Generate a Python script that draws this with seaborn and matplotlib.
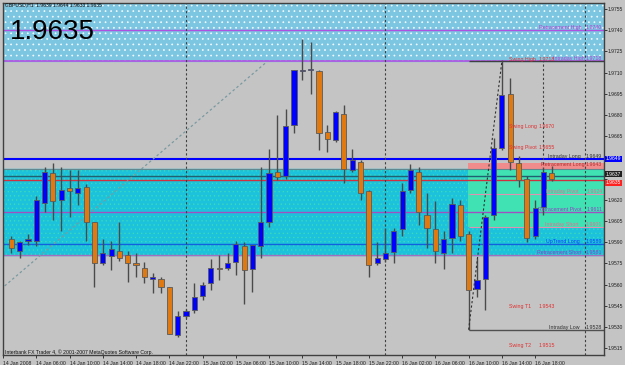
import matplotlib
matplotlib.use("Agg")
import matplotlib.pyplot as plt
import matplotlib.transforms as mtransforms
import seaborn as sns
import numpy as np

# ---------------- data ----------------
opens = [1.9592, 1.9584, 1.9591, 1.9591, 1.9618, 1.9639, 1.9620, 1.9628, 1.9625, 1.9629,
         1.9604, 1.9575, 1.9580, 1.9584, 1.9581, 1.9575, 1.9572, 1.9564, 1.9564, 1.9558,
         1.9524, 1.9538, 1.9542, 1.9552, 1.9561, 1.9572, 1.9572, 1.9576, 1.9587, 1.9571,
         1.9587, 1.9604, 1.9640, 1.9637, 1.9673, 1.9711, 1.9712, 1.9711, 1.9668, 1.9662,
         1.9681, 1.9641, 1.9647, 1.9626, 1.9575, 1.9578, 1.9583, 1.9599, 1.9627, 1.9640,
         1.9609, 1.9599, 1.9582, 1.9593, 1.9616, 1.9596, 1.9557, 1.9564, 1.9609, 1.9657,
         1.9695, 1.9646, 1.9635, 1.9594, 1.9615, 1.9639]
highs = [1.9594, 1.9591, 1.9596, 1.9623, 1.9643, 1.9646, 1.9643, 1.9641, 1.9641, 1.9631,
         1.9604, 1.9592, 1.9591, 1.9604, 1.9584, 1.9582, 1.9576, 1.9568, 1.9565, 1.9558,
         1.9541, 1.9543, 1.9561, 1.9562, 1.9578, 1.9581, 1.9582, 1.9591, 1.9590, 1.9588,
         1.9643, 1.9656, 1.9680, 1.9684, 1.9712, 1.9734, 1.9732, 1.9712, 1.9673, 1.9683,
         1.9687, 1.9656, 1.9648, 1.9627, 1.9590, 1.9600, 1.9600, 1.9632, 1.9645, 1.9643,
         1.9625, 1.9619, 1.9598, 1.9621, 1.9620, 1.9598, 1.9579, 1.9609, 1.9664, 1.9719,
         1.9706, 1.9651, 1.9637, 1.9620, 1.9643, 1.9644]
lows = [1.9582, 1.9579, 1.9588, 1.9587, 1.9611, 1.9606, 1.9598, 1.9608, 1.9616, 1.9591,
        1.9558, 1.9574, 1.9570, 1.9577, 1.9562, 1.9565, 1.9561, 1.9554, 1.9554, 1.9525,
        1.9523, 1.9536, 1.9540, 1.9549, 1.9556, 1.9563, 1.9570, 1.9567, 1.9546, 1.9555,
        1.9579, 1.9601, 1.9634, 1.9635, 1.9667, 1.9705, 1.9695, 1.9655, 1.9654, 1.9661,
        1.9632, 1.9640, 1.9620, 1.9565, 1.9574, 1.9576, 1.9575, 1.9594, 1.9625, 1.9602,
        1.9586, 1.9575, 1.9571, 1.9582, 1.9591, 1.9528, 1.9551, 1.9542, 1.9606, 1.9655,
        1.9641, 1.9629, 1.9590, 1.9592, 1.9609, 1.9633]
closes = [1.9586, 1.9590, 1.9592, 1.9620, 1.9640, 1.9619, 1.9627, 1.9626, 1.9628, 1.9604,
          1.9575, 1.9582, 1.9585, 1.9579, 1.9575, 1.9574, 1.9565, 1.9565, 1.9558, 1.9525,
          1.9538, 1.9541, 1.9551, 1.9560, 1.9572, 1.9571, 1.9575, 1.9589, 1.9570, 1.9588,
          1.9604, 1.9639, 1.9636, 1.9672, 1.9712, 1.9712, 1.9712, 1.9667, 1.9663, 1.9682,
          1.9642, 1.9648, 1.9625, 1.9574, 1.9579, 1.9582, 1.9598, 1.9626, 1.9641, 1.9611,
          1.9600, 1.9584, 1.9592, 1.9617, 1.9594, 1.9556, 1.9563, 1.9608, 1.9657, 1.9694,
          1.9647, 1.9634, 1.9593, 1.9614, 1.9640, 1.9635]

time_labels = ["14 Jan 2008", "14 Jan 06:00", "14 Jan 10:00", "14 Jan 14:00", "14 Jan 18:00",
               "14 Jan 22:00", "15 Jan 02:00", "15 Jan 06:00", "15 Jan 10:00", "15 Jan 14:00",
               "15 Jan 18:00", "15 Jan 22:00", "16 Jan 02:00", "16 Jan 06:00", "16 Jan 10:00",
               "16 Jan 14:00", "16 Jan 18:00"]
time_label_bars = [-1, 3, 7, 11, 15, 19, 23, 27, 31, 35, 39, 43, 47, 51, 55, 59, 63]
day_separator_bars = [21, 45, 69]

price_ticks = [1.9755, 1.9740, 1.9725, 1.9710, 1.9695, 1.9680, 1.9665, 1.9650, 1.9635,
               1.9620, 1.9605, 1.9590, 1.9575, 1.9560, 1.9545, 1.9530, 1.9515]
hidden_tick_labels = [1.9650, 1.9635]

level_names = ["Retracement High", "Intraday High", "Intraday Long", "Retracement Long",
               "Intraday Pivot", "Retracement Pivot", "Intraday Short", "UpTrend Long",
               "Retracement Short", "Intraday Low"]
level_values = [1.9740, 1.9718, 1.9649, 1.9643, 1.9624, 1.9611, 1.9601, 1.9589, 1.9581, 1.9528]
level_colors = ["#B040D0", "#B040D0", "#303030", "#B03030", "#E07090", "#9040C0",
                "#E07090", "#1040FF", "#9040C0", "#303030"]

swing_names = ["Swing High", "Swing Long", "Swing Pivot", "Swing T1", "Swing T2"]
swing_values = [1.9718, 1.9670, 1.9655, 1.9543, 1.9515]

bid_price = 1.9635
ask_price = 1.9637
retr_high_band = (1.9718, 1.9760)
main_band = (1.9581, 1.9642)
long_zone = (1.9601, 1.9642)
retr_long_zone = (1.9642, 1.9646)
zone_start_bar = 55
trend_x = [-0.8, 30.6]
trend_y = [1.9559, 1.9717]
swing_leg_x = [55, 59]
swing_leg_y = [1.9528, 1.9718]

# ---------------- style ----------------
BG = "#C4C4C4"
SMALL = "Liberation Sans"
FS = 3.8
sns.set_theme(style="white")
plt.rcParams["font.family"] = ["DejaVu Sans"]

fig = plt.figure(figsize=(6.25, 3.65), dpi=100, facecolor=BG)
ax = fig.add_axes([3 / 625, 10 / 365, 601 / 625, 352 / 365])
ax.set_facecolor(BG)

n = len(opens)
x = np.arange(n)
ax.set_xlim(-0.84, 71.28)
ax.set_ylim(1.95101, 1.97593)

# bands
ax.axhspan(*retr_high_band, color="#7CC6E2", zorder=0)
with plt.rc_context({"hatch.linewidth": 0.5}):
    ax.axhspan(*retr_high_band, facecolor="none", edgecolor="#F4FAFF", hatch="...", lw=0, zorder=0.1)
ax.axhspan(*main_band, color="#1CC2DC", zorder=0)
with plt.rc_context({"hatch.linewidth": 0.4}):
    ax.axhspan(*main_band, facecolor="none", edgecolor="#3EDCB4", hatch="....", lw=0, zorder=0.1)
ax.fill_between([zone_start_bar - 0.05, 72], long_zone[0], long_zone[1], color="#40E2B4", lw=0, zorder=0.2)
ax.fill_between([zone_start_bar - 0.05, 72], retr_long_zone[0], retr_long_zone[1], color="#F08C8C", lw=0, zorder=0.2)

# full-width level lines
ax.axhline(level_values[0], color="#B050E0", lw=1.0, zorder=1)
ax.axhline(level_values[1], color="#B050E0", lw=1.2, zorder=1)
ax.axhline(level_values[2], color="#0000FF", lw=1.5, zorder=1)
ax.axhline(level_values[5], color="#A050C0", lw=1.0, zorder=1)
ax.axhline(level_values[7], color="#1060E0", lw=1.0, zorder=1)
ax.axhline(level_values[8], color="#A070C0", lw=1.0, zorder=1)
ax.axhline(main_band[1], color="#608890", lw=0.8, zorder=1)
ax.axhline(ask_price - 0.00005, color="#206070", lw=1.0, zorder=1)
ax.axhline(bid_price - 0.0001, color="#D03040", lw=1.0, zorder=1)
# partial level lines (right zone)
ax.hlines(level_values[4], zone_start_bar, 72, color="#E090B0", lw=0.8, zorder=1)
ax.hlines(level_values[6], zone_start_bar, 72, color="#E090B0", lw=0.8, zorder=1)
ax.hlines(level_values[9], zone_start_bar, 72, color="#505050", lw=1.0, zorder=1)
ax.hlines(level_values[1], zone_start_bar, 72, color="#404040", lw=1.0, zorder=1.1)

# separators and trend lines
for b in day_separator_bars:
    ax.axvline(b, color="#404040", lw=0.8, ls=(0, (2, 2)), zorder=1)
ax.vlines(64, 1.9645, level_values[1], color="#404040", lw=0.8, ls=(0, (2, 2)), zorder=1)
sns.lineplot(x=trend_x, y=trend_y, ax=ax, color="#7A9AA0", lw=0.9, ls=(0, (2, 2)), zorder=1)
sns.lineplot(x=swing_leg_x, y=swing_leg_y, ax=ax, color="#303030", lw=0.8, ls=(0, (2, 2)), zorder=3)

# candles
o = np.array(opens); c = np.array(closes); h = np.array(highs); l = np.array(lows)
up = c >= o
ax.vlines(x, l, h, color="#4A4A4A", lw=1.0, zorder=2)
body_bottom = np.minimum(o, c)
body_h = np.maximum(np.abs(c - o), 0.00004)
colors = np.where(up, "#0000FF", "#E07A10")
ax.bar(x, body_h, bottom=body_bottom, width=0.62, color=colors, edgecolor="#5A5A5A",
       linewidth=0.6, zorder=2.5)

# axes
for s in ["left", "right", "top", "bottom"]:
    ax.spines[s].set_color("#404040")
    ax.spines[s].set_linewidth(1.0)
ax.yaxis.tick_right()
ax.set_yticks(price_ticks)
ax.set_yticklabels(["" if v in hidden_tick_labels else f"{v:.4f}" for v in price_ticks],
                   fontsize=3.6, color="#202020", family=SMALL)
ax.tick_params(axis="y", length=2.0, width=0.6, pad=0.8, colors="#202020", direction="out", right=True)
ax.set_xticks(time_label_bars)
ax.set_xticklabels(time_labels, fontsize=3.7, color="#202020", family=SMALL)
for lbl in ax.get_xticklabels():
    lbl.set_ha("left")
ax.tick_params(axis="x", length=2.5, width=0.6, pad=1.5, colors="#202020", direction="out", bottom=True)
ax.grid(False)

# level texts
tr = mtransforms.blended_transform_factory(ax.transAxes, ax.transData)
name_right = [0.962, 0.968, 0.962, 0.967, 0.957, 0.963, 0.957, 0.960, 0.963, 0.960]
for nm, v, col, xr in zip(level_names, level_values, level_colors, name_right):
    dy = 0.00004 if nm == "Intraday High" else 0.0
    ax.text(xr, v + dy, nm, transform=tr, fontsize=FS, color=col, ha="right", va="bottom",
            zorder=4, family=SMALL)
    ax.text(0.997, v + dy, f"{v:.4f}", transform=tr, fontsize=FS, color=col, ha="right",
            va="bottom", zorder=4, family=SMALL)
for nm, v in zip(swing_names, swing_values):
    dy = -0.00008 if nm == "Swing High" else 0.0
    ax.text(59.8, v + dy, nm, fontsize=FS, color="#E03030", ha="left", va="bottom", zorder=4, family=SMALL)
    ax.text(63.4, v + dy, f"{v:.4f}", fontsize=FS, color="#E03030", ha="left", va="bottom", zorder=4, family=SMALL)

# price boxes on axis
for v, txt, fc in [(level_values[2], f"{level_values[2]:.4f}", "#0000FF"),
                   (ask_price + 0.0001, f"{ask_price:.4f}", "#202020"),
                   (bid_price - 0.0003, f"{bid_price:.4f}", "#FF2020")]:
    ax.text(1.003, v, txt, transform=tr, fontsize=3.6, color="white", family=SMALL,
            ha="left", va="center", zorder=5, clip_on=False,
            bbox=dict(boxstyle="square,pad=0.12", fc=fc, ec="none"))

# header texts
fig.text(5 / 625, 1 - 5 / 365, "GBPUSD,H1  1.9639 1.9644 1.9633 1.9635", fontsize=3.6, color="#101010",
         ha="left", va="center", family=SMALL)
fig.text(10 / 625, 1 - 32 / 365, "1.9635", fontsize=20, color="black", ha="left", va="center",
         family="Liberation Sans")
fig.text(5 / 625, 1 - 352 / 365, "Interbank FX Trader 4, \u00a9 2001-2007 MetaQuotes Software Corp.",
         fontsize=3.7, color="#101010", ha="left", va="center", family=SMALL)

fig.savefig("out.png", dpi=100, facecolor=BG)
